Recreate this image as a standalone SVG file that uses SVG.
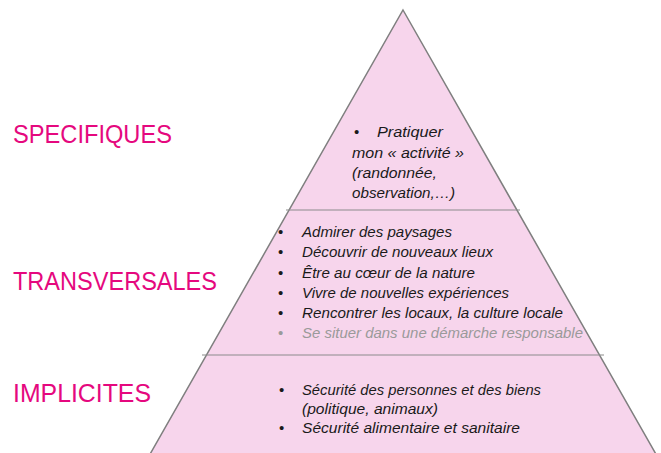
<svg xmlns="http://www.w3.org/2000/svg" width="661" height="453" viewBox="0 0 661 453">
<style>
.lvl{font-family:"Liberation Sans",Arial,sans-serif;font-size:26px;fill:#E5087E}
.it{font-family:"Liberation Sans",Arial,sans-serif;font-size:15px;font-style:italic;fill:#1a1a1a}
.b{font-family:"Liberation Sans",Arial,sans-serif;font-size:15px;fill:#1a1a1a}
.gray{fill:#9a9a9a}
.edge{stroke:#8c8c8c;stroke-width:1.1;fill:none}
</style>
<rect width="661" height="453" fill="#ffffff"/>
<g id="pyramid">
<polygon points="403,10 661,463 145,463" fill="#F7D5EC" stroke="#7f7f7f" stroke-width="1.5"/>
</g>
<g id="connectors">
<line class="edge" x1="286" y1="210" x2="520" y2="210"/>
<line class="edge" x1="202" y1="355" x2="604" y2="355"/>
</g>
<g id="specifiques">
<text class="lvl" x="13" y="143" textLength="159" lengthAdjust="spacingAndGlyphs">SPECIFIQUES</text>
<text class="b" x="354" y="137">•</text>
<text class="it" x="377" y="137" textLength="66" lengthAdjust="spacingAndGlyphs">Pratiquer</text>
<text class="it" x="352" y="158" textLength="112" lengthAdjust="spacingAndGlyphs">mon « activité »</text>
<text class="it" x="352" y="178" textLength="85" lengthAdjust="spacingAndGlyphs">(randonnée,</text>
<text class="it" x="352" y="198" textLength="103" lengthAdjust="spacingAndGlyphs">observation,…)</text>
</g>
<g id="transversales">
<text class="lvl" x="13" y="290" textLength="204" lengthAdjust="spacingAndGlyphs">TRANSVERSALES</text>
<text class="b" x="278" y="237">•</text>
<text class="it" x="302" y="237" textLength="150" lengthAdjust="spacingAndGlyphs">Admirer des paysages</text>
<text class="b" x="278" y="257">•</text>
<text class="it" x="302" y="257" textLength="191" lengthAdjust="spacingAndGlyphs">Découvrir de nouveaux lieux</text>
<text class="b" x="278" y="278">•</text>
<text class="it" x="302" y="278" textLength="173" lengthAdjust="spacingAndGlyphs">Être au cœur de la nature</text>
<text class="b" x="278" y="298">•</text>
<text class="it" x="302" y="298" textLength="207" lengthAdjust="spacingAndGlyphs">Vivre de nouvelles expériences</text>
<text class="b" x="278" y="318">•</text>
<text class="it" x="302" y="318" textLength="261" lengthAdjust="spacingAndGlyphs">Rencontrer les locaux, la culture locale</text>
<text class="b gray" x="278" y="338">•</text>
<text class="it gray" x="302" y="338" textLength="281" lengthAdjust="spacingAndGlyphs">Se situer dans une démarche responsable</text>
</g>
<g id="implicites">
<text class="lvl" x="13" y="402" textLength="138" lengthAdjust="spacingAndGlyphs">IMPLICITES</text>
<text class="b" x="279" y="395">•</text>
<text class="it" x="302" y="395" textLength="239" lengthAdjust="spacingAndGlyphs">Sécurité des personnes et des biens</text>
<text class="it" x="302" y="414" textLength="136" lengthAdjust="spacingAndGlyphs">(politique, animaux)</text>
<text class="b" x="279" y="433">•</text>
<text class="it" x="302" y="433" textLength="218" lengthAdjust="spacingAndGlyphs">Sécurité alimentaire et sanitaire</text>
</g>
</svg>
